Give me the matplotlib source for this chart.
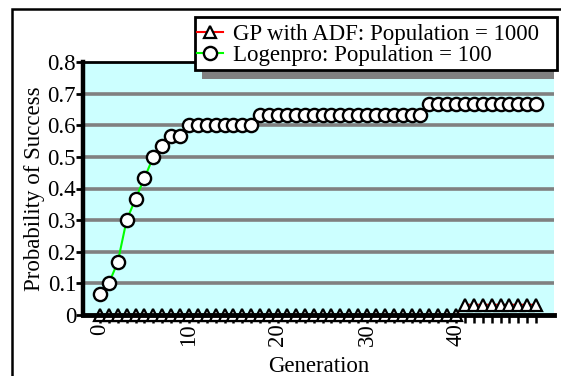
import numpy as np
import matplotlib
matplotlib.use("Agg")
import matplotlib.pyplot as plt
from matplotlib.patches import Rectangle
from matplotlib.lines import Line2D

# generations 0..49
generation = list(range(50))

# GP with ADF, population 1000
gp_adf = [0.0] * 41 + [0.033] * 9

# Logenpro, population 100
logenpro = [0.067, 0.1, 0.167, 0.3, 0.367, 0.433, 0.5, 0.533, 0.567, 0.567] \
    + [0.6] * 8 + [0.633] * 19 + [0.667] * 13

legend_labels = ["GP with ADF: Population = 1000", "Logenpro: Population = 100"]
x_label = "Generation"
y_label = "Probability of Success"

plt.rcParams['font.family'] = ['Liberation Serif', 'DejaVu Serif']
fs = 16.5

W, H = 561, 376
fig = plt.figure(figsize=(W / 100, H / 100), dpi=100)

def fx(px):
    return px / W

def fy(py):
    return 1 - py / H

def box(x0, y0, x1, y1, **kw):
    # rectangle given in pixel coords (top-left origin)
    r = Rectangle((fx(x0), fy(y1)), fx(x1) - fx(x0), fy(y0) - fy(y1),
                  transform=fig.transFigure, **kw)
    fig.patches.append(r)
    return r

# outer chart frame
box(12, 9, 570, 380, fill=False, edgecolor='black', linewidth=1.8, zorder=0)

ax = fig.add_axes([fx(83), fy(315), fx(554) - fx(83), fy(62) - fy(315)])
ax.set_facecolor('#ccffff')

ax.set_xlim(-1.9, 51)
ax.set_ylim(0, 0.8)

for yv in np.arange(0.1, 0.75, 0.1):
    ax.axhline(yv, color='#808080', linewidth=2.6, zorder=1)

ax.plot(generation, logenpro, color='#00ff00', linewidth=1.5, marker='o',
        markersize=9.5, markerfacecolor='white', markeredgecolor='black',
        markeredgewidth=1.7, zorder=4, clip_on=False)
ax.plot(generation, gp_adf, color='#ff0000', linewidth=1.2, marker='^',
        markersize=8, markerfacecolor='white', markeredgecolor='black',
        markeredgewidth=1.6, zorder=3, clip_on=False)

ax.spines['right'].set_visible(False)
ax.spines['top'].set_linewidth(2)
ax.spines['left'].set_linewidth(3.2)
ax.spines['bottom'].set_linewidth(3.5)
ax.spines['bottom'].set_zorder(3.5)
for s in ax.spines.values():
    s.set_color('black')

ax.set_yticks(np.arange(0, 0.81, 0.1))
ax.set_yticklabels(['0', '0.1', '0.2', '0.3', '0.4', '0.5', '0.6', '0.7', '0.8'], fontsize=fs)
ax.tick_params(axis='y', direction='out', length=5, width=2, pad=0)

ax.set_xticks(generation)
ax.set_xticklabels([str(g) if g % 10 == 0 else '' for g in generation],
                   rotation=90, fontsize=fs)
ax.tick_params(axis='x', direction='out', length=6, width=1.8, pad=0)

ax.set_xlabel(x_label, fontsize=fs, labelpad=7)
ax.set_ylabel(y_label, fontsize=fs, labelpad=2)

# legend box with shadow, drawn by hand
box(202, 25, 554, 79, facecolor='#808080', edgecolor='none', zorder=5)
box(195, 17, 557, 70, facecolor='white', edgecolor='black', linewidth=2, zorder=5.5)

handles = [
    Line2D([], [], color='#ff0000', linewidth=1.5, marker='^', markersize=9,
           markerfacecolor='white', markeredgecolor='black', markeredgewidth=1.6),
    Line2D([], [], color='#00ff00', linewidth=1.5, marker='o', markersize=9.5,
           markerfacecolor='white', markeredgecolor='black', markeredgewidth=1.7),
]
leg = fig.legend(handles, legend_labels, loc='upper left',
                 bbox_to_anchor=(fx(195), fy(22)), fontsize=fs,
                 frameon=False, handlelength=1.1,
                 handletextpad=0.45, borderpad=0.1, labelspacing=0.0,
                 borderaxespad=0)
leg.set_zorder(6)

fig.savefig('out.png', dpi=100)
